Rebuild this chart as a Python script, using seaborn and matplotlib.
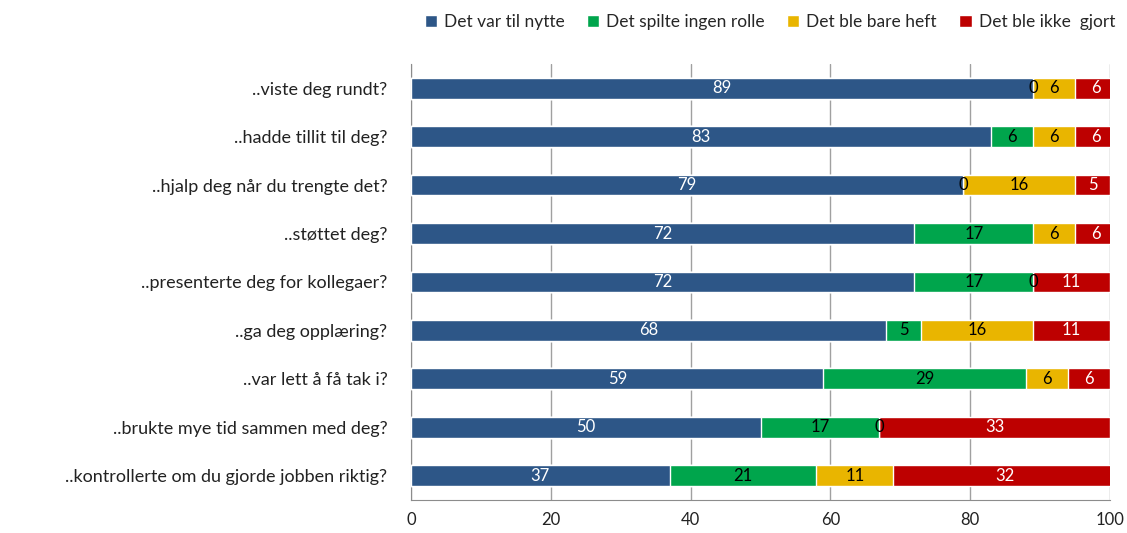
import numpy as np
import pandas as pd
import matplotlib.pyplot as plt
from matplotlib.patches import Patch
import seaborn as sns

questions = ["..viste deg rundt?", "..hadde tillit til deg?", "..hjalp deg når du trengte det?",
             "..støttet deg?", "..presenterte deg for kollegaer?", "..ga deg opplæring?",
             "..var lett å få tak i?", "..brukte mye tid sammen med deg?",
             "..kontrollerte om du gjorde jobben riktig?"]
series = ["Det var til nytte", "Det spilte ingen rolle", "Det ble bare heft", "Det ble ikke  gjort"]
nytte = [89, 83, 79, 72, 72, 68, 59, 50, 37]
ingen = [0, 6, 0, 17, 17, 5, 29, 17, 21]
heft = [6, 6, 16, 6, 0, 16, 6, 0, 11]
ikke = [6, 6, 5, 6, 11, 11, 6, 33, 32]

colors = ["#2D5687", "#00A54C", "#E9B500", "#BD0000"]
text_colors = ["white", "black", "black", "white"]

sns.set_style("white")
plt.rcParams['font.family'] = ['Lato', 'DejaVu Sans']

vals = np.array([nytte, ingen, heft, ikke], dtype=float)
cum = vals.cumsum(axis=0)

fig = plt.figure(figsize=(11.27, 5.33), dpi=100)
ax = fig.add_axes([0.3647, 0.062, 0.6203, 0.818])

# stacked bars: draw cumulative totals from largest to smallest
for i in range(3, -1, -1):
    df = pd.DataFrame({"q": questions, "v": cum[i]})
    sns.barplot(data=df, x="v", y="q", orient="h", color=colors[i], saturation=1,
                width=0.43, ax=ax, legend=False, zorder=3)

for i in range(4):
    for j in range(len(questions)):
        left = cum[i][j] - vals[i][j]
        xc = left + vals[i][j] / 2
        c = text_colors[i] if vals[i][j] > 0 else "black"
        ax.text(xc, j, f"{int(vals[i][j])}", ha="center", va="center", color=c,
                fontsize=12, zorder=5)

ax.set_xlim(0, 100)
ax.set_ylim(len(questions) - 0.5, -0.5)
ax.set_xticks([0, 20, 40, 60, 80, 100])
ax.set_xlabel("")
ax.set_ylabel("")
ax.grid(axis="x", color="#A0A0A0", linewidth=1, zorder=0)
ax.set_axisbelow(True)
for s in ["top", "right"]:
    ax.spines[s].set_visible(False)
for s in ["left", "bottom"]:
    ax.spines[s].set_color("#8C8C8C")
ax.tick_params(axis="y", length=0, labelsize=13, pad=17, labelcolor="#222222")
ax.set_yticks(np.arange(-0.5, len(questions), 1), minor=True)
ax.tick_params(axis="y", which="minor", length=5, color="#8C8C8C")
ax.tick_params(axis="x", length=5, color="#8C8C8C", labelsize=12, labelcolor="#222222")

hs = [Patch(facecolor=colors[k]) for k in range(4)]
fig.legend(hs, series, loc="center", bbox_to_anchor=(0.683, 0.958), ncol=4, frameon=False,
           fontsize=12.5, handlelength=0.7, handleheight=0.7, handletextpad=0.4,
           columnspacing=1.3)

fig.savefig("out.png", dpi=100)
